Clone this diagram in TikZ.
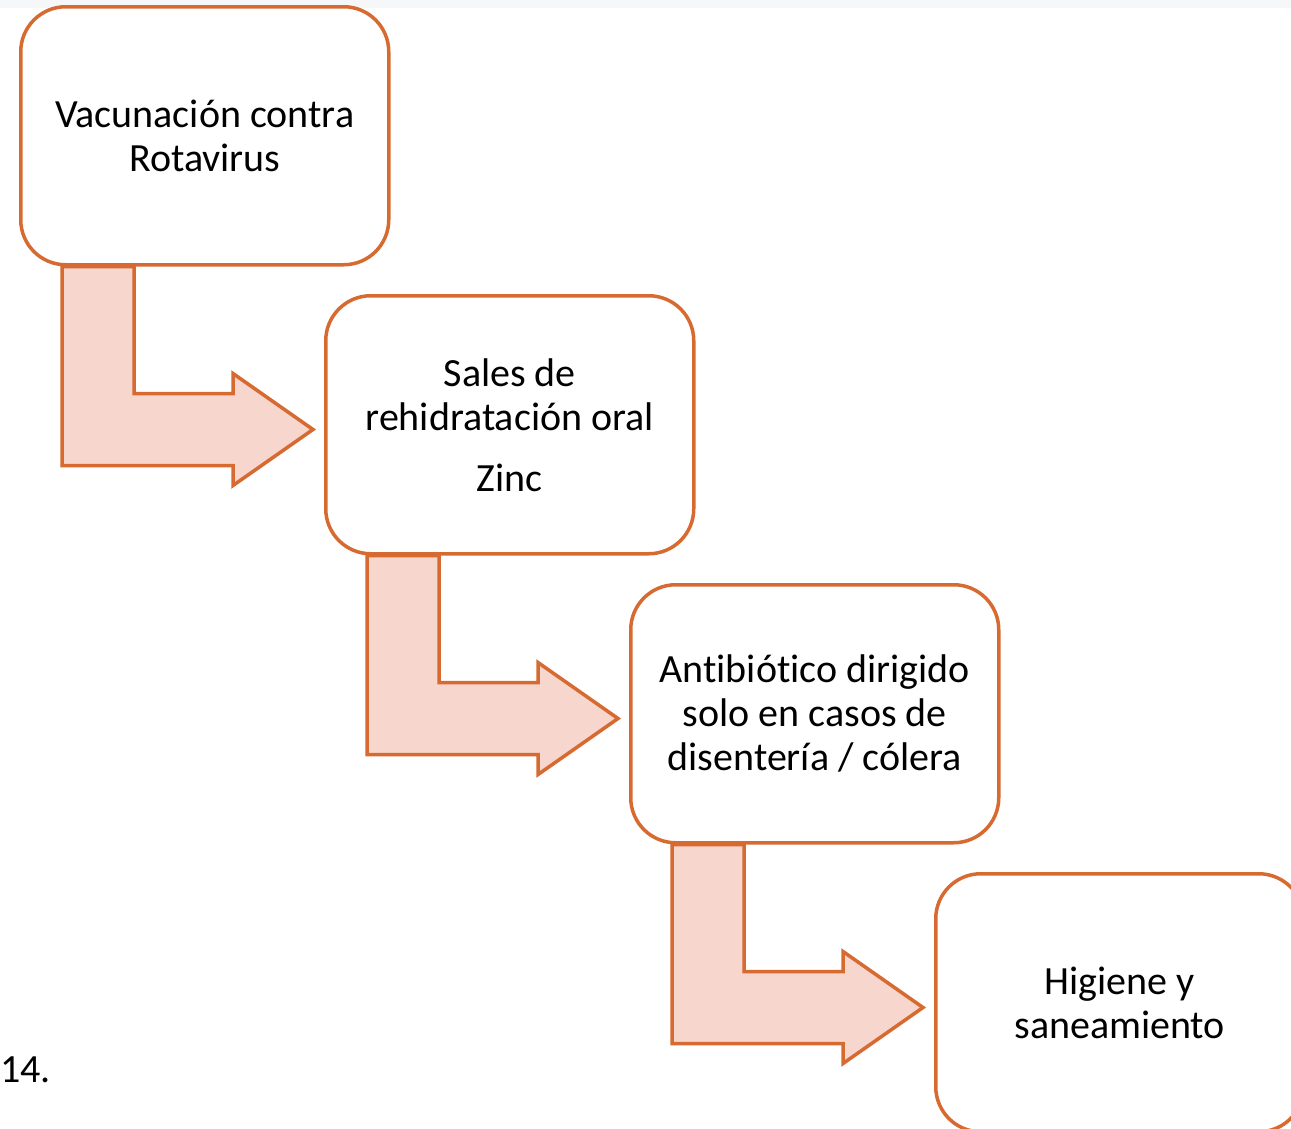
\documentclass[tikz,border=0pt]{standalone}
\usepackage{fontspec}
\setmainfont[RawFeature=-liga]{Carlito}
\usetikzlibrary{calc,backgrounds}
\definecolor{edge}{RGB}{214,106,48}
\definecolor{pink}{RGB}{247,214,205}
\definecolor{strip}{RGB}{246,247,249}
\tikzset{
  stage/.style={draw=edge, line width=3.5pt, fill=white, rounded corners=45pt,
    minimum width=368pt, minimum height=258pt, inner sep=0pt, align=center,
    font=\fontsize{40}{44}\selectfont, text=black, anchor=north west},
  bent/.style={draw=edge, line width=3.5pt, fill=pink, line join=miter},
}
\begin{document}
\begin{tikzpicture}[x=1pt,y=-1pt]
\useasboundingbox (0,0) rectangle (1291,1128);
\clip (0,0) rectangle (1291,1128);
\node[stage] (a) at (19,5) {Vacunación contra\\Rotavirus};
\node[stage] (b) at (324,294) {Sales de\\rehidratación oral\\[17pt]Zinc};
\node[stage] (c) at (629,583) {Antibiótico dirigido\\solo en casos de\\disentería / cólera};
\node[stage] (d) at (934,872) {Higiene y\\saneamiento};
\node[font=\fontsize{40}{44}\selectfont, anchor=base west, inner sep=0pt] (n) at (0,1082) {14.};
\begin{scope}[on background layer]
\fill[strip] (0,0) rectangle (1291,8);
\foreach \s/\t in {a/b,b/c,c/d}{
  \draw[bent] ($(\s.south west)+(43,0)$) -- ++(0,199) -- ++(171,0) -- ++(0,20)
    -- ++(80,-56) -- ++(-80,-56) -- ++(0,20) -- ++(-99,0) -- ++(0,-127) -- cycle;
}
\end{scope}
\end{tikzpicture}
\end{document}
